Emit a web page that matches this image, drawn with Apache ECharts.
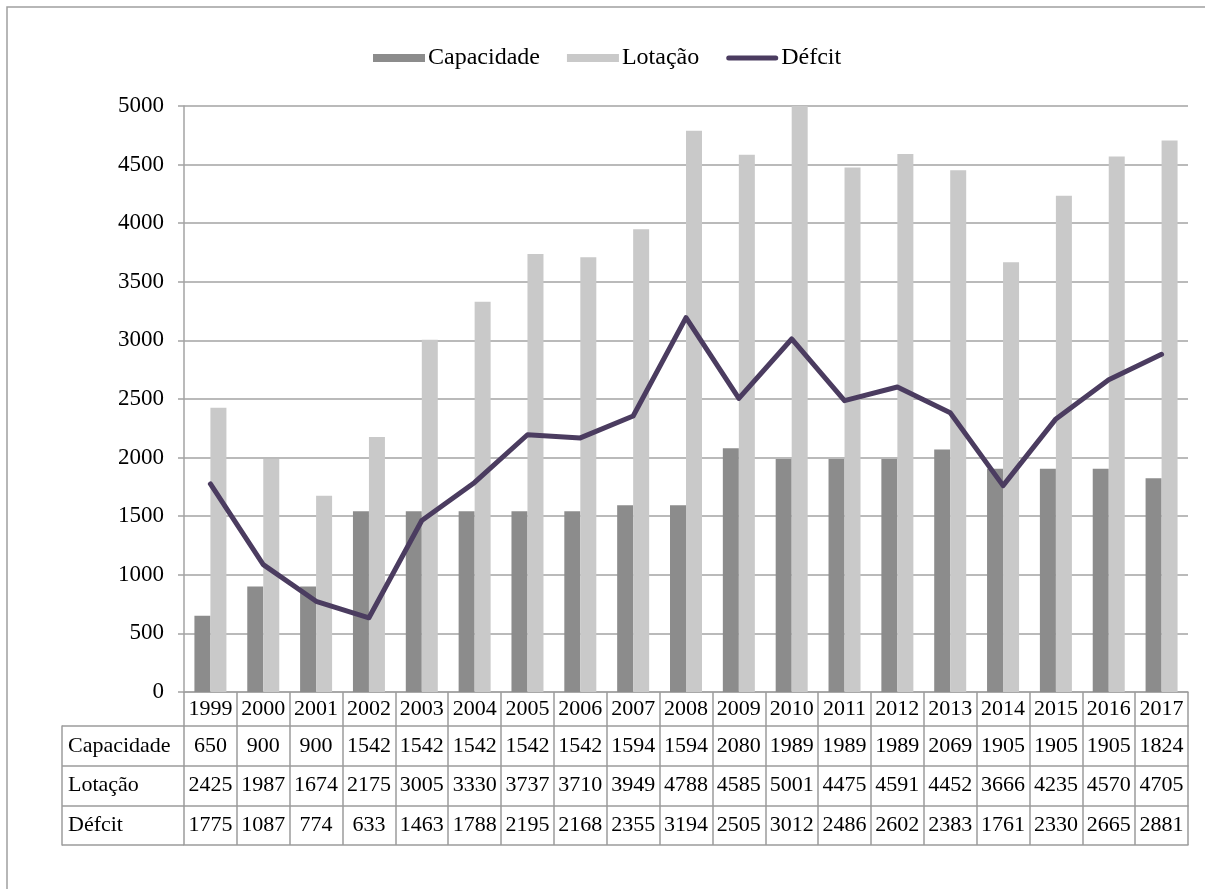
<!DOCTYPE html>
<html>
<head>
<meta charset="utf-8">
<title>Capacidade, Lotação e Déficit 1999–2017</title>
<script src="https://cdn.jsdelivr.net/npm/echarts@6/dist/echarts.min.js"></script>
<style>
  html, body { margin: 0; padding: 0; background: #ffffff; }
  #chart { width: 1205px; height: 889px; }
</style>
</head>
<body>
<div id="chart"></div>
<script>
// Anos e séries
const anos = ['1999','2000','2001','2002','2003','2004','2005','2006','2007','2008',
              '2009','2010','2011','2012','2013','2014','2015','2016','2017'];
const capacidade = [650, 900, 900, 1542, 1542, 1542, 1542, 1542, 1594, 1594,
                    2080, 1989, 1989, 1989, 2069, 1905, 1905, 1905, 1824];
const lotacao = [2425, 1987, 1674, 2175, 3005, 3330, 3737, 3710, 3949, 4788,
                 4585, 5001, 4475, 4591, 4452, 3666, 4235, 4570, 4705];
const deficit = [1775, 1087, 774, 633, 1463, 1788, 2195, 2168, 2355, 3194,
                 2505, 3012, 2486, 2602, 2383, 1761, 2330, 2665, 2881];
const rotulosLinhas = ['Capacidade', 'Lotação', 'Défcit'];
const valoresLinhas = [capacidade, lotacao, deficit];
const yTicks = { min: 0, max: 5000, interval: 500 };

const FONT = "'Liberation Serif', 'Times New Roman', serif";
const GRID_COLOR = '#a3a3a3';
const BORDER_COLOR = '#9c9c9c';
const PLOT_LEFT = 184, PLOT_RIGHT = 17;
const TABLE_TOP = 726, ROW_H = (845 - 726) / 3;

const chart = echarts.init(document.getElementById('chart'), null, { renderer: 'canvas' });

const grids = [{ left: PLOT_LEFT, right: PLOT_RIGHT, top: 106, height: 586 }];
const xAxes = [{
  type: 'category', gridIndex: 0, data: anos,
  axisLine: { show: true, lineStyle: { color: GRID_COLOR, width: 1.5 } },
  axisTick: { show: true, interval: 0, length: 34, lineStyle: { color: BORDER_COLOR, width: 1.5 } },
  axisLabel: { interval: 0, margin: 17, verticalAlign: 'middle', color: '#000', fontFamily: FONT, fontSize: 22 }
}];
const yAxes = [{
  type: 'value', gridIndex: 0, min: yTicks.min, max: yTicks.max, interval: yTicks.interval,
  axisLine: { show: true, lineStyle: { color: GRID_COLOR, width: 1.5 } },
  axisTick: { show: true, length: 6, lineStyle: { color: GRID_COLOR, width: 1.5 } },
  axisLabel: { margin: 20, color: '#000', fontFamily: FONT, fontSize: 23, formatter: v => String(v) },
  splitLine: { show: true, lineStyle: { color: GRID_COLOR, width: 1.5 } }
}];

// Linhas numéricas da tabela de dados: uma grade por linha
valoresLinhas.forEach((vals, r) => {
  const gi = grids.length;
  grids.push({ left: PLOT_LEFT, right: PLOT_RIGHT, top: TABLE_TOP + r * ROW_H, height: ROW_H });
  xAxes.push({
    type: 'category', gridIndex: gi, data: anos, position: 'top',
    axisLine: { show: true, onZero: false, lineStyle: { color: BORDER_COLOR, width: 1.5 } },
    axisTick: { show: true, inside: true, interval: 0, length: ROW_H, lineStyle: { color: BORDER_COLOR, width: 1.5 } },
    axisLabel: {
      inside: true, interval: 0, margin: ROW_H / 2, verticalAlign: 'middle',
      color: '#000', fontFamily: FONT, fontSize: 22,
      formatter: (v, i) => String(vals[i])
    }
  });
  yAxes.push({ type: 'value', gridIndex: gi, show: false });
});

// Borda inferior da tabela
const gBase = grids.length;
grids.push({ left: PLOT_LEFT, right: PLOT_RIGHT, top: TABLE_TOP + 3 * ROW_H, height: 10 });
xAxes.push({
  type: 'category', gridIndex: gBase, data: anos, position: 'top',
  axisLine: { show: true, onZero: false, lineStyle: { color: BORDER_COLOR, width: 1.5 } },
  axisTick: { show: false }, axisLabel: { show: false }
});
yAxes.push({ type: 'value', gridIndex: gBase, show: false });

// Coluna de rótulos da tabela
const gLab = grids.length;
grids.push({ left: 62, width: PLOT_LEFT - 62, top: TABLE_TOP, height: 3 * ROW_H });
xAxes.push({ type: 'value', gridIndex: gLab, show: false });
yAxes.push({
  type: 'category', gridIndex: gLab, data: rotulosLinhas, inverse: true, position: 'left',
  axisLine: { show: true, onZero: false, lineStyle: { color: BORDER_COLOR, width: 1.5 } },
  axisTick: { show: true, inside: true, interval: 0, length: PLOT_LEFT - 62, lineStyle: { color: BORDER_COLOR, width: 1.5 } },
  axisLabel: { inside: true, interval: 0, margin: 6, color: '#000', fontFamily: FONT, fontSize: 22 }
});

chart.setOption({
  animation: false,
  backgroundColor: '#ffffff',
  graphic: [{
    type: 'rect', silent: true, z: -10,
    shape: { x: 7, y: 7, width: 1400, height: 1000 },
    style: { fill: 'none', stroke: '#a0a0a0', lineWidth: 1.5 }
  }],
  legend: {
    left: 368, top: 41,
    itemWidth: 52, itemHeight: 8, itemGap: 27,
    textStyle: { fontFamily: FONT, fontSize: 24, color: '#000', padding: [0, 0, 0, -2] },
    data: [
      { name: 'Capacidade', icon: 'rect' },
      { name: 'Lotação', icon: 'rect' },
      { name: 'Défcit', icon: 'path://M0,0 M52,8 M2.5,1.5 L49.5,1.5 A2.5,2.5 0 0 1 49.5,6.5 L2.5,6.5 A2.5,2.5 0 0 1 2.5,1.5 Z' }
    ]
  },
  grid: grids,
  xAxis: xAxes,
  yAxis: yAxes,
  series: [
    {
      name: 'Capacidade', type: 'bar', xAxisIndex: 0, yAxisIndex: 0,
      data: capacidade, barWidth: 16, barGap: '0%',
      itemStyle: { color: '#8c8c8c' }
    },
    {
      name: 'Lotação', type: 'bar', xAxisIndex: 0, yAxisIndex: 0,
      data: lotacao, barWidth: 16, barGap: '0%',
      itemStyle: { color: '#c9c9c9' }
    },
    {
      name: 'Défcit', type: 'line', xAxisIndex: 0, yAxisIndex: 0,
      data: deficit, symbol: 'none', showSymbol: false,
      lineStyle: { color: '#4b3c60', width: 5, cap: 'round', join: 'round' },
      itemStyle: { color: '#4b3c60' }, z: 5
    }
  ]
});
</script>
</body>
</html>
